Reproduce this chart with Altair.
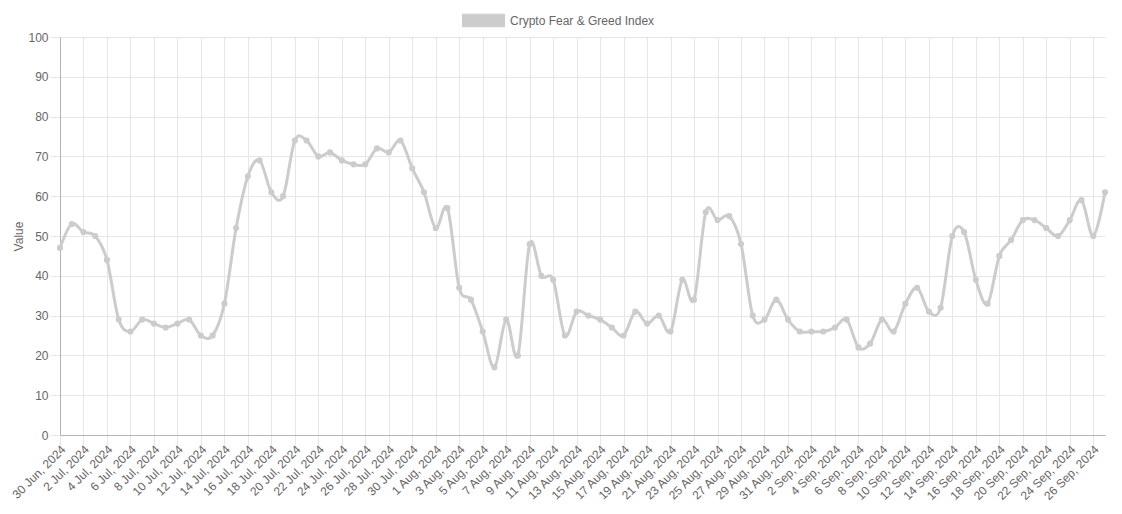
import json
import altair as alt
import pandas as pd

series_name = "Crypto Fear & Greed Index"

day_range = pd.date_range("2024-06-30", "2024-09-27", freq="D")
dates = [d.strftime("%Y-%m-%d") for d in day_range]
tick_labels = [f"{d.day} {d.strftime('%b')}, {d.year}" for d in day_range]

values = [
    47, 53, 51, 50, 44, 29, 26, 29, 28, 27,
    28, 29, 25, 25, 33, 52, 65, 69, 61, 60,
    74, 74, 70, 71, 69, 68, 68, 72, 71, 74,
    67, 61, 52, 57, 37, 34, 26, 17, 29, 20,
    48, 40, 39, 25, 31, 30, 29, 27, 25, 31,
    28, 30, 26, 39, 34, 56, 54, 55, 48, 30,
    29, 34, 29, 26, 26, 26, 27, 29, 22, 23,
    29, 26, 33, 37, 31, 32, 50, 51, 39, 33,
    45, 49, 54, 54, 52, 50, 54, 59, 50, 61,
]

y_ticks = list(range(0, 101, 10))
x_tick_idx = list(range(0, len(dates) - 1, 2))

df = pd.DataFrame({
    "idx": list(range(len(dates))),
    "date": dates,
    "value": values,
    "series": [series_name] * len(dates),
})

label_expr = json.dumps(tick_labels) + "[datum.value]"

chart = alt.Chart(df).mark_line(
    interpolate="cardinal",
    strokeWidth=3,
    point=alt.OverlayMarkDef(filled=True, size=38, opacity=1),
).encode(
    x=alt.X(
        "idx:Q",
        scale=alt.Scale(domain=[0, len(dates) - 1], nice=False, zero=False),
        axis=alt.Axis(
            values=x_tick_idx,
            labelExpr=label_expr,
            labelAngle=315,
            labelAlign="right",
            labelBaseline="middle",
            labelPadding=2,
            labelOffset=3,
            tickSize=10,
            title=None,
            labelOverlap=False,
        ),
    ),
    y=alt.Y(
        "value:Q",
        scale=alt.Scale(domain=[0, 100], nice=False),
        axis=alt.Axis(
            values=y_ticks,
            title="Value",
            tickSize=10,
            labelPadding=2,
            titlePadding=2,
        ),
    ),
    color=alt.Color(
        "series:N",
        scale=alt.Scale(domain=[series_name], range=["#cccccc"]),
        legend=alt.Legend(
            title=None,
            orient="none",
            legendX=402,
            legendY=-38,
            symbolType="M-1,-0.3H1V0.3H-1Z",
            symbolSize=1764,
            symbolFillColor="#cccccc",
            symbolStrokeColor="#cccccc",
            symbolStrokeWidth=1,
            symbolOpacity=1,
            labelFontSize=12,
            labelColor="#666666",
            labelOffset=5,
        ),
    ),
).properties(
    width=1045,
    height=398,
    autosize=alt.AutoSizeParams(type="none"),
    padding={"left": 52, "top": 29, "right": 9, "bottom": 70},
).configure(
    font="Liberation Sans",
).configure_view(
    strokeWidth=0,
).configure_axis(
    labelColor="#666666",
    labelFontSize=12,
    titleColor="#666666",
    titleFontSize=12,
    titleFontWeight="normal",
    gridColor="#e6e6e6",
    tickColor="#e6e6e6",
    domainColor="#b3b3b3",
)

chart.save("out.html", embed_options={"renderer": "svg", "actions": False})
